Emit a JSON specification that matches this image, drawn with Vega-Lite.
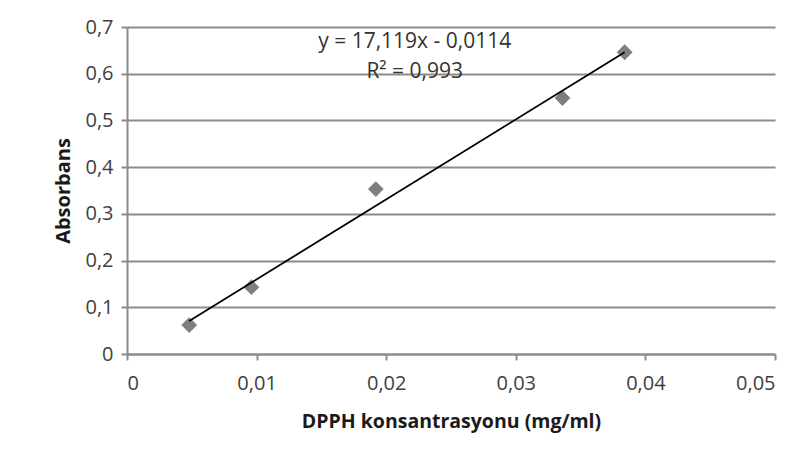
{
  "$schema": "https://vega.github.io/schema/vega-lite/v6.json",
  "autosize": "none",
  "width": 648,
  "height": 327,
  "padding": {"left": 127, "top": 27, "right": 33, "bottom": 112},
  "background": "white",
  "config": {
    "view": {"stroke": null},
    "font": "Open Sans",
    "axis": {"labelFont": "Open Sans", "titleFont": "Open Sans"}
  },
  "datasets": {
    "points": [
      {"conc": 0.0048, "abs": 0.062},
      {"conc": 0.0096, "abs": 0.143},
      {"conc": 0.0192, "abs": 0.353},
      {"conc": 0.0336, "abs": 0.548},
      {"conc": 0.0384, "abs": 0.646}
    ],
    "trend": [
      {"conc": 0.0048, "abs": 0.0708},
      {"conc": 0.0384, "abs": 0.646}
    ],
    "labels": [
      {"conc": 0.0222, "abs": 0.668, "text": "y = 17,119x - 0,0114"},
      {"conc": 0.0222, "abs": 0.604, "text": "R² = 0,993"}
    ]
  },
  "layer": [
    {
      "data": {"name": "points"},
      "mark": {"type": "point", "shape": "diamond", "filled": true, "color": "#7f7f7f", "size": 250, "opacity": 1},
      "encoding": {
        "x": {
          "field": "conc", "type": "quantitative",
          "scale": {"domain": [0, 0.05], "nice": false},
          "axis": {
            "values": [0, 0.01, 0.02, 0.03, 0.04, 0.05],
            "labelExpr": "replace(format(datum.value, '~g'), '.', ',')",
            "grid": false,
            "domainColor": "#8c8c8c", "domainWidth": 2,
            "tickColor": "#8c8c8c", "tickWidth": 2, "tickSize": 6,
            "labelFontSize": 20, "labelColor": "#404040", "labelPadding": 13,
            "title": "DPPH konsantrasyonu  (mg/ml)",
            "titleFontSize": 19.5, "titleFontWeight": "bold", "titleColor": "#1a1a1a", "titlePadding": 19
          }
        },
        "y": {
          "field": "abs", "type": "quantitative",
          "scale": {"domain": [0, 0.7], "nice": false},
          "axis": {
            "values": [0, 0.1, 0.2, 0.3, 0.4, 0.5, 0.6, 0.7],
            "labelExpr": "replace(format(datum.value, '~g'), '.', ',')",
            "grid": true, "gridColor": "#8c8c8c", "gridWidth": 2,
            "domainColor": "#8c8c8c", "domainWidth": 2,
            "tickColor": "#8c8c8c", "tickWidth": 2, "tickSize": 6,
            "labelFontSize": 20, "labelColor": "#404040", "labelPadding": 8,
            "title": "Absorbans",
            "titleFontSize": 20, "titleFontWeight": "bold", "titleColor": "#1a1a1a", "titlePadding": 11
          }
        }
      }
    },
    {
      "data": {"name": "trend"},
      "mark": {"type": "line", "color": "#000000", "strokeWidth": 1.8},
      "encoding": {
        "x": {"field": "conc", "type": "quantitative"},
        "y": {"field": "abs", "type": "quantitative"}
      }
    },
    {
      "data": {"name": "labels"},
      "mark": {"type": "text", "fontSize": 21, "color": "#333333", "align": "center", "baseline": "middle", "font": "Open Sans"},
      "encoding": {
        "x": {"field": "conc", "type": "quantitative"},
        "y": {"field": "abs", "type": "quantitative"},
        "text": {"field": "text"}
      }
    }
  ]
}
